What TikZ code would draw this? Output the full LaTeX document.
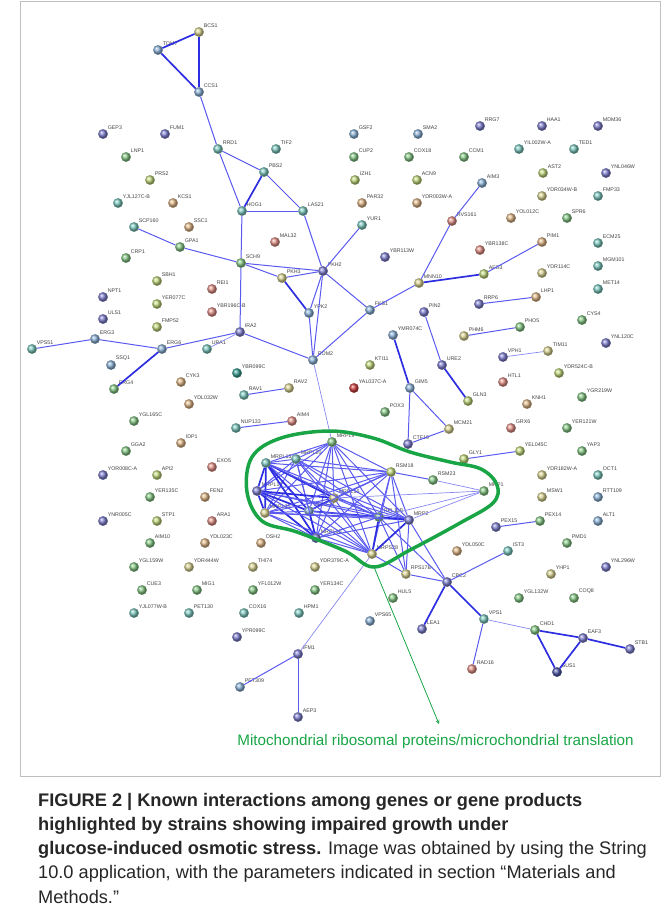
\documentclass[tikz,border=0pt]{standalone}
\usepackage{fontspec}
\setmainfont{Liberation Sans}
\definecolor{cPB}{RGB}{128,128,208}
\definecolor{cBl}{RGB}{140,178,215}
\definecolor{cTe}{RGB}{125,200,190}
\definecolor{cGr}{RGB}{135,200,135}
\definecolor{cYG}{RGB}{192,215,125}
\definecolor{cYe}{RGB}{215,210,145}
\definecolor{cTa}{RGB}{222,182,135}
\definecolor{cPk}{RGB}{225,145,135}
\definecolor{cRd}{RGB}{205,65,65}
\definecolor{cDB}{RGB}{80,90,170}
\definecolor{cDT}{RGB}{60,160,150}
\definecolor{linkblue}{RGB}{90,90,240}
\definecolor{linkdark}{RGB}{45,45,225}
\definecolor{linklight}{RGB}{135,135,245}
\definecolor{hullgreen}{RGB}{25,165,70}
\tikzset{
    gene/.style n args={2}{circle, inner sep=0pt, minimum size=9.5pt, ball color=#1,
        draw=#1!75!black, line width=0.2pt, label={[lbl]45:#2}},
    lbl/.style={font=\fontsize{5.3}{5.5}\selectfont, text=black!75, inner sep=0.4pt, xshift=0.8pt},
    lk/.style={draw=linkblue, line width=1pt},
    lkthick/.style={draw=linkdark, line width=1.7pt},
    lkthin/.style={draw=linklight, line width=0.7pt},
}
\begin{document}
\begin{tikzpicture}[x=1pt, y=-1pt]
    \useasboundingbox (0,0) rectangle (670,916);
    \draw[black!25, line width=0.5pt] (20,1) rectangle (660,776);
    % genes, upper part
    \node[gene={cYe}{BCS1}] (bcs1) at (199,32) {};
    \node[gene={cBl}{TOM7}] (tom7) at (158,50) {};
    \node[gene={cBl}{CCS1}] (ccs1) at (199,92) {};
    \node[gene={cPB}{GEP3}] (gep3) at (103,134) {};
    \node[gene={cPB}{FUM1}] (fum1) at (165,134) {};
    \node[gene={cGr}{LNP1}] (lnp1) at (126,157) {};
    \node[gene={cYG}{PRS2}] (prs2) at (150,180) {};
    \node[gene={cTe}{YJL127C-B}] (yjl127cb) at (118,203) {};
    \node[gene={cTa}{KCS1}] (kcs1) at (173,203) {};
    \node[gene={cTe}{RRD1}] (rrd1) at (218,149) {};
    \node[gene={cTe}{TIF2}] (tif2) at (276,149) {};
    \node[gene={cTe}{PBS2}] (pbs2) at (264,172) {};
    \node[gene={cTe}{HOG1}] (hog1) at (242,211) {};
    \node[gene={cTe}{LAS21}] (las21) at (303,211) {};
    \node[gene={cBl}{GSF2}] (gsf2) at (354,134) {};
    \node[gene={cBl}{SMA2}] (sma2) at (418,134) {};
    \node[gene={cGr}{CUP2}] (cup2) at (354,157) {};
    \node[gene={cGr}{COX18}] (cox18) at (409,157) {};
    \node[gene={cYG}{IZH1}] (izh1) at (355,180) {};
    \node[gene={cYG}{ACN9}] (acn9) at (417,180) {};
    \node[gene={cTa}{PAR32}] (par32) at (362,203) {};
    \node[gene={cTa}{YDR003W-A}] (ydr003wa) at (417,203) {};
    \node[gene={cPB}{RRG7}] (rrg7) at (480,126) {};
    \node[gene={cPB}{HAA1}] (haa1) at (542,126) {};
    \node[gene={cPB}{MDM36}] (mdm36) at (598,126) {};
    \node[gene={cGr}{CCM1}] (ccm1) at (464,157) {};
    \node[gene={cTe}{YIL002W-A}] (yil002wa) at (519,149) {};
    \node[gene={cTe}{TED1}] (ted1) at (574,149) {};
    \node[gene={cYG}{AST2}] (ast2) at (543,173) {};
    \node[gene={cPB}{YNL046W}] (ynl046w) at (606,173) {};
    \node[gene={cBl}{AIM3}] (aim3) at (482,183) {};
    \node[gene={cYe}{YDR034W-B}] (ydr034wb) at (542,196) {};
    \node[gene={cTe}{FMP33}] (fmp33) at (598,196) {};
    \node[gene={cPk}{RVS161}] (rvs161) at (452,221) {};
    \node[gene={cTa}{YOL012C}] (yol012c) at (511,218) {};
    \node[gene={cGr}{SPR6}] (spr6) at (567,218) {};
    % genes, middle part
    \node[gene={cTe}{SCP160}] (scp160) at (134,227) {};
    \node[gene={cTa}{SSC1}] (ssc1) at (189,227) {};
    \node[gene={cGr}{GPA1}] (gpa1) at (180,247) {};
    \node[gene={cGr}{CRP1}] (crp1) at (126,258) {};
    \node[gene={cYG}{SBH1}] (sbh1) at (157,281) {};
    \node[gene={cPk}{REI1}] (rei1) at (212,289) {};
    \node[gene={cPB}{NPT1}] (npt1) at (103,297) {};
    \node[gene={cYG}{YER077C}] (yer077c) at (157,304) {};
    \node[gene={cPk}{YBR196C-B}] (ybr196cb) at (212,312) {};
    \node[gene={cPB}{ULS1}] (uls1) at (103,319) {};
    \node[gene={cYG}{FMP52}] (fmp52) at (157,327) {};
    \node[gene={cBl}{ERG3}] (erg3) at (95,339) {};
    \node[gene={cTe}{VPS51}] (vps51) at (32,349) {};
    \node[gene={cBl}{ERG6}] (erg6) at (162,349) {};
    \node[gene={cTe}{URA1}] (ura1) at (207,349) {};
    \node[gene={cBl}{SSQ1}] (ssq1) at (111,365) {};
    \node[gene={cTa}{CYK3}] (cyk3) at (181,382) {};
    \node[gene={cGr}{ERG4}] (erg4) at (114,389) {};
    \node[gene={cGr}{SCH9}] (sch9) at (241,263) {};
    \node[gene={cPB}{IRA2}] (ira2) at (240,332) {};
    \node[gene={cDT}{YBR099C}] (ybr099c) at (237,373) {};
    \node[gene={cTe}{YUR1}] (yur1) at (362,225) {};
    \node[gene={cPk}{MAL32}] (mal32) at (275,242) {};
    \node[gene={cPB}{YBR113W}] (ybr113w) at (385,257) {};
    \node[gene={cPB}{PKH2}] (pkh2) at (323,271) {};
    \node[gene={cYe}{PKH3}] (pkh3) at (282,278) {};
    \node[gene={cYe}{MNN10}] (mnn10) at (419,283) {};
    \node[gene={cBl}{YPK2}] (ypk2) at (309,313) {};
    \node[gene={cBl}{FKS1}] (fks1) at (370,310) {};
    \node[gene={cPB}{PIN2}] (pin2) at (424,312) {};
    \node[gene={cBl}{YMR074C}] (ymr074c) at (393,335) {};
    \node[gene={cBl}{ROM2}] (rom2) at (313,360) {};
    \node[gene={cYG}{KTI11}] (kti11) at (370,365) {};
    \node[gene={cPB}{URE2}] (ure2) at (442,365) {};
    \node[gene={cYe}{RAV2}] (rav2) at (289,388) {};
    \node[gene={cRd}{YAL037C-A}] (yal037ca) at (354,388) {};
    \node[gene={cBl}{GIM5}] (gim5) at (410,388) {};
    \node[gene={cTa}{PIM1}] (pim1) at (542,242) {};
    \node[gene={cTe}{ECM25}] (ecm25) at (598,243) {};
    \node[gene={cPk}{YBR138C}] (ybr138c) at (480,250) {};
    \node[gene={cYG}{AFG3}] (afg3) at (484,274) {};
    \node[gene={cYe}{YDR114C}] (ydr114c) at (542,273) {};
    \node[gene={cTe}{MGM101}] (mgm101) at (598,266) {};
    \node[gene={cTe}{MET14}] (met14) at (598,289) {};
    \node[gene={cTa}{LHP1}] (lhp1) at (536,297) {};
    \node[gene={cPB}{RRP6}] (rrp6) at (479,304) {};
    \node[gene={cGr}{CYS4}] (cys4) at (582,320) {};
    \node[gene={cGr}{PHO5}] (pho5) at (520,327) {};
    \node[gene={cYe}{PHM6}] (phm6) at (464,336) {};
    \node[gene={cPB}{YNL120C}] (ynl120c) at (606,343) {};
    \node[gene={cPB}{VPH1}] (vph1) at (503,357) {};
    \node[gene={cYe}{TIM11}] (tim11) at (548,351) {};
    \node[gene={cYG}{YDR524C-B}] (ydr524cb) at (559,373) {};
    \node[gene={cPk}{HTL1}] (htl1) at (503,382) {};
    % genes, lower left
    \node[gene={cTa}{YDL032W}] (ydl032w) at (189,404) {};
    \node[gene={cGr}{YGL165C}] (ygl165c) at (134,421) {};
    \node[gene={cTa}{IDP1}] (idp1) at (181,443) {};
    \node[gene={cGr}{GGA2}] (gga2) at (126,451) {};
    \node[gene={cPk}{EXO5}] (exo5) at (212,467) {};
    \node[gene={cPB}{YOR008C-A}] (yor008ca) at (103,475) {};
    \node[gene={cYG}{API2}] (api2) at (157,475) {};
    \node[gene={cGr}{YER135C}] (yer135c) at (150,497) {};
    \node[gene={cTa}{FEN2}] (fen2) at (205,497) {};
    \node[gene={cPB}{YNR005C}] (ynr005c) at (103,521) {};
    \node[gene={cYG}{STP1}] (stp1) at (157,521) {};
    \node[gene={cPk}{ARA1}] (ara1) at (212,521) {};
    \node[gene={cGr}{AIM10}] (aim10) at (150,543) {};
    \node[gene={cTa}{YDL023C}] (ydl023c) at (205,543) {};
    \node[gene={cTe}{NUP133}] (nup133) at (236,428) {};
    \node[gene={cTe}{RAV1}] (rav1) at (244,395) {};
    \node[gene={cPk}{AIM4}] (aim4) at (292,421) {};
    \node[gene={cGr}{POX3}] (pox3) at (385,412) {};
    \node[gene={cPB}{CTF19}] (ctf19) at (408,444) {};
    \node[gene={cYe}{MCM21}] (mcm21) at (449,429) {};
    \node[gene={cTa}{OSH2}] (osh2) at (261,543) {};
    % mitochondrial ribosome
    \node[gene={cGr}{MRPL9}] (mrpl9) at (332,442) {};
    \node[gene={cTe}{MRPL20}] (mrpl20) at (296,459) {};
    \node[gene={cTe}{MRPL13}] (mrpl13) at (266,463) {};
    \node[gene={cPB}{MRPL17}] (mrpl17) at (257,491) {};
    \node[gene={cYe}{MRPL35}] (mrpl35) at (265,513) {};
    \node[gene={cBl}{MRPL24}] (mrpl24) at (309,511) {};
    \node[gene={cYe}{MRPL16}] (mrpl16) at (334,498) {};
    \node[gene={cPB}{MRPL10}] (mrpl10) at (316,538) {};
    \node[gene={cYG}{RSM18}] (rsm18) at (391,472) {};
    \node[gene={cGr}{RSM23}] (rsm23) at (433,480) {};
    \node[gene={cGr}{RPL11B}] (rpl11b) at (379,517) {};
    \node[gene={cPB}{MRP2}] (mrp2) at (409,520) {};
    \node[gene={cYe}{MRPS28}] (mrps28) at (372,554) {};
    \node[gene={cGr}{MRP1}] (mrp1) at (484,491) {};
    \node[gene={cYe}{RPS17B}] (rps17b) at (406,574) {};
    % genes, right side
    \node[gene={cYG}{GLN3}] (gln3) at (468,401) {};
    \node[gene={cTa}{KNH1}] (knh1) at (527,404) {};
    \node[gene={cGr}{YGR219W}] (ygr219w) at (582,397) {};
    \node[gene={cPk}{GRX6}] (grx6) at (511,428) {};
    \node[gene={cGr}{YER121W}] (yer121w) at (567,428) {};
    \node[gene={cYG}{YEL045C}] (yel045c) at (520,451) {};
    \node[gene={cGr}{YAP3}] (yap3) at (582,451) {};
    \node[gene={cYG}{GLY1}] (gly1) at (464,459) {};
    \node[gene={cYe}{YDR182W-A}] (ydr182wa) at (542,475) {};
    \node[gene={cTe}{OCT1}] (oct1) at (598,475) {};
    \node[gene={cYe}{MSW1}] (msw1) at (542,497) {};
    \node[gene={cBl}{RTT109}] (rtt109) at (598,497) {};
    \node[gene={cPB}{PEX15}] (pex15) at (496,527) {};
    \node[gene={cGr}{PEX14}] (pex14) at (540,521) {};
    \node[gene={cBl}{ALT1}] (alt1) at (598,521) {};
    \node[gene={cGr}{PMD1}] (pmd1) at (567,543) {};
    \node[gene={cTa}{YDL050C}] (ydl050c) at (457,551) {};
    \node[gene={cTe}{IST3}] (ist3) at (508,551) {};
    % genes, bottom
    \node[gene={cGr}{YGL159W}] (ygl159w) at (134,567) {};
    \node[gene={cYe}{YDR444W}] (ydr444w) at (189,567) {};
    \node[gene={cGr}{CUE3}] (cue3) at (142,590) {};
    \node[gene={cGr}{MIG1}] (mig1) at (197,590) {};
    \node[gene={cTe}{YJL077W-B}] (yjl077wb) at (134,613) {};
    \node[gene={cTe}{PET130}] (pet130) at (189,613) {};
    \node[gene={cYe}{THI74}] (thi74) at (253,567) {};
    \node[gene={cYe}{YDR379C-A}] (ydr379ca) at (315,567) {};
    \node[gene={cGr}{YFL012W}] (yfl012w) at (253,590) {};
    \node[gene={cGr}{YER134C}] (yer134c) at (315,590) {};
    \node[gene={cTe}{COX16}] (cox16) at (244,613) {};
    \node[gene={cTe}{HPM1}] (hpm1) at (299,613) {};
    \node[gene={cPB}{YPR099C}] (ypr099c) at (237,637) {};
    \node[gene={cPB}{IFM1}] (ifm1) at (298,654) {};
    \node[gene={cBl}{PET309}] (pet309) at (240,687) {};
    \node[gene={cPB}{AEP3}] (aep3) at (298,717) {};
    \node[gene={cGr}{HUL5}] (hul5) at (393,598) {};
    \node[gene={cBl}{VPS65}] (vps65) at (370,621) {};
    \node[gene={cPB}{LEA1}] (lea1) at (422,629) {};
    \node[gene={cPB}{CBC2}] (cbc2) at (447,582) {};
    \node[gene={cYe}{YHP1}] (yhp1) at (551,574) {};
    \node[gene={cPB}{YNL296W}] (ynl296w) at (606,567) {};
    \node[gene={cGr}{YGL132W}] (ygl132w) at (519,598) {};
    \node[gene={cGr}{COQ8}] (coq8) at (574,598) {};
    \node[gene={cTe}{VPS1}] (vps1) at (484,619) {};
    \node[gene={cGr}{CHD1}] (chd1) at (535,630) {};
    \node[gene={cPB}{EAF3}] (eaf3) at (583,638) {};
    \node[gene={cPB}{STB1}] (stb1) at (630,649) {};
    \node[gene={cDB}{SUS1}] (sus1) at (557,672) {};
    \node[gene={cPk}{RAD16}] (rad16) at (472,669) {};
    % interactions
    \path[lkthick] (bcs1) edge (tom7) edge (ccs1) (tom7) edge (ccs1);
    \path[lk] (ccs1) edge (rrd1) (rrd1) edge (pbs2) edge (hog1);
    \path[lkthick] (pbs2) edge (hog1);
    \path[lk] (pbs2) edge (las21) (hog1) edge (las21) edge (sch9) (las21) edge (pkh2);
    \path[lk] (scp160) edge (gpa1) (gpa1) edge (sch9);
    \path[lk] (sch9) edge (pkh3) edge (pkh2) edge (ira2) (pkh3) edge (pkh2);
    \path[lkthick] (pkh3) edge (ypk2);
    \path[lk] (pkh2) edge (ypk2) edge (rom2) edge (fks1) edge (yur1) (ypk2) edge (rom2);
    \path[lk] (fks1) edge (rom2) edge (mnn10) (mnn10) edge (rvs161) (rvs161) edge (aim3);
    \path[lkthick] (mnn10) edge (afg3);
    \path[lk] (afg3) edge (pim1) (rrp6) edge (lhp1) (phm6) edge (pho5);
    \path[lkthin] (vph1) edge (tim11);
    \path[lk] (pin2) edge (ure2);
    \path[lkthick] (ure2) edge (gln3) (ymr074c) edge (gim5);
    \path[lk] (gim5) edge (ctf19) edge (mcm21) (ctf19) edge (mcm21);
    \path[lk] (ira2) edge (rom2) edge (erg6) (erg6) edge (erg3) (erg3) edge (vps51);
    \path[lkthin] (ira2) edge (ura1);
    \path[lkthick] (erg6) edge (erg4);
    \path[lkthin] (rom2) edge (mrpl9);
    \path[lk] (rav1) edge (rav2) (nup133) edge (aim4) (gly1) edge (yel045c) (pex15) edge (pex14);
    \path[lkthin] (mrps28) edge (ifm1);
    \path[lk] (ifm1) edge (pet309) edge (aep3);
    \path[lk] (cbc2) edge (ist3) edge (rps17b) edge (mrp2) edge (rpl11b) (vps1) edge (rad16);
    \path[lkthick] (cbc2) edge (vps1) edge (lea1);
    \path[lkthin] (vps1) edge (chd1);
    \path[lkthick] (chd1) edge (eaf3) edge (sus1) (eaf3) edge (sus1) edge (stb1);
    % ribosome cluster
    \path[lk] (mrpl9) edge (mrpl20) edge (mrpl13) edge (mrpl17) edge (mrpl35) edge (mrpl24)
        edge (mrpl16) edge (mrpl10) edge (rsm18) edge (rpl11b) edge (mrp2) edge (mrps28);
    \path[lk] (mrpl20) edge (mrpl13) edge (mrpl17) edge (mrpl35) edge (mrpl24) edge (mrpl16)
        edge (mrpl10) edge (rsm18) edge (rpl11b) edge (mrp2) edge (mrps28);
    \path[lkthick] (mrpl13) edge (mrpl17) edge (mrpl35) edge (mrpl24) edge (mrpl16) edge (mrpl10);
    \path[lk] (mrpl13) edge (rsm18) edge (rpl11b) edge (mrp2) edge (mrps28);
    \path[lkthick] (mrpl17) edge (mrpl35) edge (mrpl24) edge (mrpl16) edge (mrpl10);
    \path[lk] (mrpl17) edge (rsm18) edge (rpl11b) edge (mrp2) edge (mrps28);
    \path[lk] (mrpl35) edge (mrpl24) edge (mrpl16) edge (mrpl10) edge (rsm18) edge (rpl11b)
        edge (mrp2) edge (mrps28);
    \path[lkthick] (mrpl24) edge (mrpl16) edge (mrpl10) edge (rpl11b);
    \path[lk] (mrpl24) edge (rsm18) edge (mrp2) edge (mrps28);
    \path[lk] (mrpl16) edge (mrpl10) edge (rsm18) edge (rpl11b) edge (mrp2) edge (mrps28);
    \path[lk] (mrpl10) edge (rsm18) edge (rpl11b) edge (mrp2) edge (mrps28);
    \path[lk] (rsm18) edge (rpl11b) edge (mrp2) edge (mrps28) edge (rsm23);
    \path[lkthick] (rpl11b) edge (mrp2) edge (mrps28) (mrp2) edge (mrps28);
    \path[lkthin] (rsm23) edge (mrp1) (mrp1) edge (mrp2) edge (rpl11b) edge (mrpl16);
    \path[lk] (rps17b) edge (mrps28) edge (mrp2) edge (rpl11b) edge (rsm18);
    % outline and note
    \draw[hullgreen, line width=3.5pt] plot[smooth cycle, tension=0.6] coordinates {
        (330,431) (373,438) (410,452) (450,462) (481,469) (497,485) (493,503) (460,523)
        (410,550) (374,567) (345,551) (297,532) (262,521) (247,492) (252,457) (281,438)};
    \node[text=hullgreen, font=\fontsize{15.2}{17}\selectfont] (note) at (435.5,742)
        {Mitochondrial ribosomal proteins/microchondrial translation};
    \coordinate (tip) at (374,567);
    \coordinate (noteend) at (439,724);
    \draw[hullgreen, line width=0.8pt, ->, >=stealth] (tip) -- (noteend);
    % caption
    \node[anchor=north west, align=left, inner sep=0pt, font=\fontsize{18.2}{24.2}\selectfont,
        text=black!85] (caption) at (38,793)
        {\textbf{FIGURE 2 | Known interactions among genes or gene products}\\
         \textbf{highlighted by strains showing impaired growth under}\\
         \textbf{glucose-induced osmotic stress.} Image was obtained by using the String\\
         10.0 application, with the parameters indicated in section “Materials and\\
         Methods.”};
\end{tikzpicture}
\end{document}
